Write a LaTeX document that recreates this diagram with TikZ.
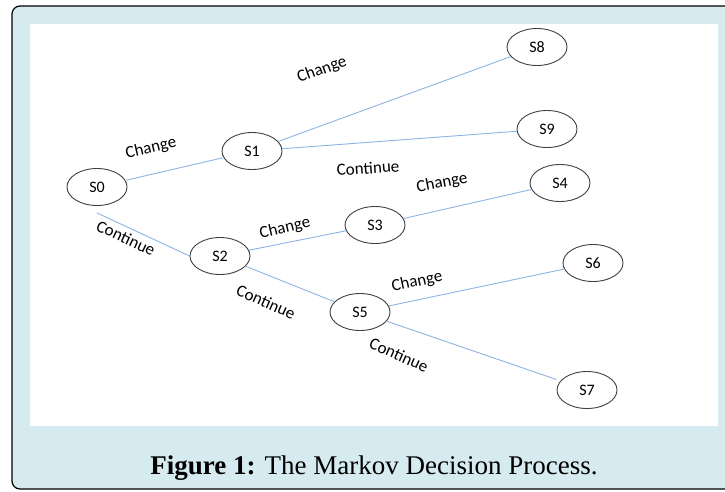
\documentclass[tikz,border=0pt]{standalone}
\usepackage{fontspec}
\setmainfont{Liberation Serif}
\newfontfamily\statefont{Carlito}
\usetikzlibrary{shapes.geometric}
\definecolor{panelblue}{RGB}{214,235,240}
\definecolor{linkblue}{RGB}{141,180,226}
\definecolor{rimgray}{RGB}{64,64,64}

\begin{document}
\begin{tikzpicture}[
    x=1pt, y=-1pt,
    state/.style={
        ellipse,
        draw=rimgray,
        line width=0.9pt,
        fill=white,
        minimum width=60pt,
        minimum height=37pt,
        inner sep=0pt,
        font=\statefont\fontsize{16}{18}\selectfont
    },
    link/.style={
        draw=linkblue,
        line width=0.9pt
    },
    action/.style={
        inner sep=0pt,
        font=\statefont\fontsize{17}{20}\selectfont
    }
]
\clip (0,0) rectangle (725,491);

% Marco
\draw[fill=panelblue, line width=1.2pt, rounded corners=8pt] (12,6) rectangle (760,489);
\fill[white] (30,24) rectangle (718,426);

% Estados
\node[state] (s0) at (97,187) {S0};
\node[state] (s1) at (252,151) {S1};
\node[state] (s2) at (220,256) {S2};
\node[state] (s3) at (375,225) {S3};
\node[state] (s4) at (560,183) {S4};
\node[state] (s5) at (360,312) {S5};
\node[state] (s6) at (593,263) {S6};
\node[state] (s7) at (587,390) {S7};
\node[state] (s8) at (537,47) {S8};
\node[state] (s9) at (547,129) {S9};

% Transiciones
\draw[link] (s0) -- (s1);
\draw[link] (s1) -- (s8);
\draw[link] (s1) -- (s9);
\draw[link] ([yshift=-7pt]s0.south) -- (s2.west);
\draw[link] (s2) -- (s3);
\draw[link] (s3) -- (s4);
\draw[link] (s2) -- (s5);
\draw[link] (s5) -- (s6);
\draw[link, shorten >=4pt] (s5) -- (s7);

% Acciones
\node[action, rotate=13] (a01) at (151,148) {Change};
\node[action, rotate=20] (a18) at (322,70) {Change};
\node[action, rotate=4] (a19) at (368,168) {Continue};
\node[action, rotate=-25] (a02) at (126,238) {Continue};
\node[action, rotate=13] (a23) at (285,228) {Change};
\node[action, rotate=11] (a34) at (442,183) {Change};
\node[action, rotate=-24] (a25) at (266,302) {Continue};
\node[action, rotate=12] (a56) at (417,282) {Change};
\node[action, rotate=-24] (a57) at (399,355) {Continue};

% Leyenda
\node[anchor=base, inner sep=0pt, font=\fontsize{27}{32}\selectfont] (caption) at (374,474)
    {\textbf{Figure 1:} The Markov Decision Process.};

\end{tikzpicture}
\end{document}
